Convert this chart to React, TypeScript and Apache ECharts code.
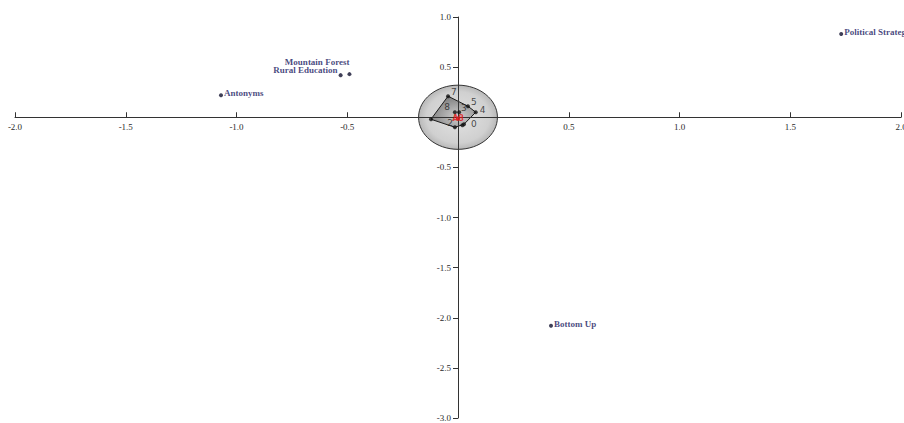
import React, { useEffect, useRef } from "react";
import * as echarts from "echarts";

// Outer labelled points
const pointNames = ["Political Strategy", "Mountain Forest", "Rural Education", "Antonyms", "Bottom Up"];
const pointX = [1.73, -0.49, -0.53, -1.07, 0.42];
const pointY = [0.83, 0.43, 0.42, 0.22, -2.08];

// Central cluster points
const clusterNames = ["0", "1", "2", "3", "4", "5", "6", "7", "8"];
const clusterX = [0.027, 0.02, -0.014, 0.005, 0.08, 0.045, -0.122, -0.045, -0.014];
const clusterY = [-0.07, -0.08, -0.1, 0.05, 0.05, 0.11, -0.02, 0.21, 0.05];
const clusterShowLabel = [true, false, true, true, true, true, false, true, true];
// Convex hull order (indices into cluster arrays)
const hullOrder = [7, 5, 4, 0, 2, 6];

// Centre marker
const centreName = "A8";
const centreX = [0.0];
const centreY = [-0.01];

// Confidence ellipse
const ellipseCenter = [0, 0];
const ellipseRadius = [0.178, 0.32];

// Axis ranges / ticks
const xMin = -2.0;
const xMax = 2.0;
const yMin = -3.0;
const yMax = 1.0;
const tickStep = 0.5;

export default function App() {
  const ref = useRef<HTMLDivElement>(null);
  useEffect(() => {
    if (!ref.current) return;
    const W = 904;
    const H = 423;
    const gl = 15, gr = 3, gt = 17, gb = 5;
    const gw = W - gl - gr;
    const gh = H - gt - gb;
    // distance from grid edge to the zero line (for positioning axes through origin)
    const xZeroFromLeft = ((0 - xMin) / (xMax - xMin)) * gw;
    const yZeroFromBottom = ((0 - yMin) / (yMax - yMin)) * gh;

    const chart = echarts.init(ref.current, null, { renderer: "svg" });
    const serif = "'Liberation Serif', 'DejaVu Serif', serif";
    const fmt = (v: number) => (Math.abs(v) < 1e-9 ? "" : v.toFixed(1));

    const option: any = {
      animation: false,
      backgroundColor: "#ffffff",
      grid: { left: gl, right: gr, top: gt, bottom: gb, containLabel: false, outerBoundsMode: "none" },
      xAxis: {
        type: "value",
        position: "bottom",
        offset: -yZeroFromBottom,
        min: xMin,
        max: xMax,
        interval: tickStep,
        z: 10,
        splitLine: { show: false },
        axisLine: { onZero: false, lineStyle: { color: "#333", width: 1 } },
        axisTick: { inside: true, length: 5, lineStyle: { color: "#333" } },
        axisLabel: {
          formatter: fmt,
          fontFamily: serif,
          fontSize: 9,
          color: "#2a2a2a",
          margin: 5,
          showMinLabel: true,
          showMaxLabel: true,
        },
      },
      yAxis: {
        type: "value",
        position: "left",
        offset: -xZeroFromLeft,
        min: yMin,
        max: yMax,
        interval: tickStep,
        z: 10,
        splitLine: { show: false },
        axisLine: { onZero: false, lineStyle: { color: "#333", width: 1 } },
        axisTick: { inside: false, length: 5, lineStyle: { color: "#333" } },
        axisLabel: {
          formatter: fmt,
          fontFamily: serif,
          fontSize: 9,
          color: "#2a2a2a",
          margin: 7,
          showMinLabel: true,
          showMaxLabel: true,
        },
      },
      series: [
        {
          type: "custom",
          z: 1,
          silent: true,
          data: [[ellipseCenter[0], ellipseCenter[1], ellipseRadius[0], ellipseRadius[1]]],
          renderItem: (params: any, api: any) => {
            const c = api.coord([api.value(0), api.value(1)]);
            const s = api.size([api.value(2), api.value(3)]);
            return {
              type: "ellipse",
              shape: { cx: c[0], cy: c[1], rx: s[0], ry: s[1] },
              style: {
                fill: new echarts.graphic.RadialGradient(0.5, 0.5, 0.5, [
                  { offset: 0, color: "#e2e2e2" },
                  { offset: 0.8, color: "#d0d0d0" },
                  { offset: 1, color: "#b8b8b8" },
                ]),
                stroke: "#333",
                lineWidth: 1,
              },
            };
          },
        },
        {
          type: "custom",
          z: 2,
          silent: true,
          data: [[0, 0]],
          renderItem: (params: any, api: any) => {
            const pts = hullOrder.map((i) => api.coord([clusterX[i], clusterY[i]]));
            return {
              type: "polygon",
              shape: { points: pts },
              style: {
                fill: new echarts.graphic.RadialGradient(0.6, 0.65, 0.6, [
                  { offset: 0, color: "#cfcfcf" },
                  { offset: 1, color: "#858585" },
                ]),
                stroke: "#1a1a1a",
                lineWidth: 1,
              },
            };
          },
        },
        {
          type: "scatter",
          z: 12,
          symbol: "circle",
          symbolSize: 4,
          itemStyle: { color: "#111" },
          data: clusterNames.map((n, i) => ({
            name: n,
            value: [clusterX[i], clusterY[i]],
            label: {
              show: clusterShowLabel[i],
              position: n === "2" || n === "8" ? "left" : "right",
              offset: n === "2" ? [2, -4] : n === "8" ? [-1, -5] : n === "7" ? [-1, -4] : n === "5" ? [-1, -4] : n === "3" ? [-2, -4] : n === "0" ? [3, 0] : [0, -2],
              distance: 2,
            },
          })),
          label: {
            formatter: "{b}",
            fontFamily: "'DejaVu Sans', sans-serif",
            fontSize: 9,
            color: "#222",
          },
        },
        {
          type: "scatter",
          z: 13,
          symbol: "circle",
          symbolSize: 4,
          itemStyle: { color: "#e02020" },
          data: centreX.map((x, i) => ({ name: centreName, value: [x, centreY[i]] })),
          label: {
            show: true,
            position: "inside",
            formatter: "{b}",
            fontFamily: "'DejaVu Sans', sans-serif",
            fontSize: 8,
            fontWeight: "bold",
            color: "#e01010",
          },
        },
        {
          type: "scatter",
          z: 12,
          symbol: "circle",
          symbolSize: 4,
          itemStyle: { color: "#10102e" },
          data: pointNames.map((n, i) => {
            let label: any = { position: "right", distance: 1, offset: [0, -2] };
            if (n === "Mountain Forest") label = { position: "left", distance: 5, offset: [7, -12] };
            if (n === "Rural Education") label = { position: "left", distance: 5, offset: [4, -5] };
            return { name: n, value: [pointX[i], pointY[i]], label };
          }),
          label: {
            show: true,
            formatter: "{b}",
            fontFamily: serif,
            fontSize: 9,
            fontWeight: "bold",
            color: "#161660",
          },
        },
      ],
    };
    chart.setOption(option);
    return () => chart.dispose();
  }, []);
  return (
    <div
      ref={ref}
      style={{ position: "fixed", left: 0, top: 0, width: 904, height: 423, background: "#fff" }}
    />
  );
}
